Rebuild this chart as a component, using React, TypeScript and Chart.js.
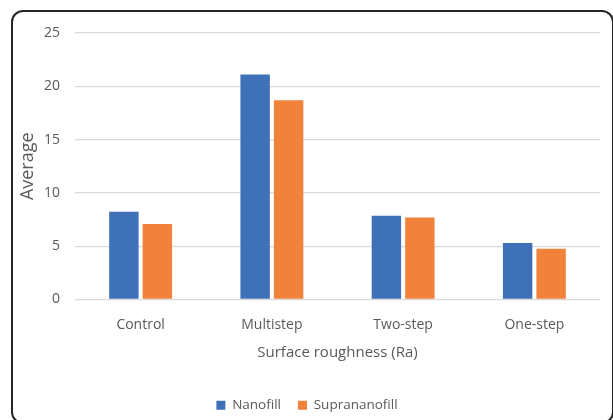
import React, { useEffect, useRef } from "react";
import { Chart, registerables } from "chart.js";

Chart.register(...registerables);

const categories = ["Control", "Multistep", "Two-step", "One-step"];
const nanofill = [8.22, 21.1, 7.85, 5.31];
const supranano = [7.09, 18.7, 7.7, 4.76];
const seriesNames = ["Nanofill", "Suprananofill"];
const xTitle = "Surface roughness (Ra)";
const yTitle = "Average";

const FONT = "'Open Sans', 'Noto Sans', sans-serif";
const TEXT = "#595959";

export default function App() {
  const ref = useRef<HTMLCanvasElement | null>(null);

  useEffect(() => {
    if (!ref.current) return;
    const chart = new Chart(ref.current, {
      type: "bar",
      data: {
        labels: categories,
        datasets: [
          {
            label: seriesNames[0],
            data: nanofill,
            backgroundColor: "#3F71B8",
            borderColor: "#3F71B8",
            borderWidth: 0,
          },
          {
            label: seriesNames[1],
            data: supranano,
            backgroundColor: "#F1823B",
            borderColor: "#F1823B",
            borderWidth: 0,
          },
        ],
      },
      options: {
        responsive: false,
        animation: false,
        devicePixelRatio: 1,
        layout: { padding: { left: 14, right: 13, top: 33, bottom: 0 } },
        datasets: {
          bar: { categoryPercentage: 0.51, barPercentage: 0.88 },
        },
        plugins: {
          tooltip: { enabled: false },
          legend: {
            position: "bottom",
            labels: {
              boxWidth: 9,
              boxHeight: 9,
              padding: 17,
              color: TEXT,
              font: { family: FONT, size: 13.5 },
            },
          },
        },
        scales: {
          x: {
            grid: { display: false, drawTicks: false },
            border: { display: false },
            ticks: {
              color: TEXT,
              padding: 17,
              font: { family: FONT, size: 14 },
            },
            title: {
              display: true,
              text: xTitle,
              color: TEXT,
              font: { family: FONT, size: 15 },
              padding: { top: 4, bottom: 20 },
            },
            afterFit: (scale: any) => {
              scale.height = 82;
            },
          },
          y: {
            min: 0,
            max: 25,
            grid: { color: "#D9D9D9", lineWidth: 1.3, drawTicks: false },
            border: { display: false },
            ticks: {
              stepSize: 5,
              color: TEXT,
              padding: 15,
              font: { family: FONT, size: 14 },
            },
            title: {
              display: true,
              text: yTitle,
              color: TEXT,
              font: { family: FONT, size: 18 },
              padding: { top: 3, bottom: 4 },
            },
            afterFit: (scale: any) => {
              scale.width = 75 - 14;
            },
          },
        },
      },
    });
    return () => chart.destroy();
  }, []);

  return (
    <div
      style={{
        position: "fixed",
        left: 0,
        top: 0,
        width: 613,
        height: 420,
        overflow: "hidden",
        background: "#fff",
      }}
    >
      <canvas ref={ref} width={613} height={422} style={{ position: "absolute", left: 0, top: 0 }} />
      <div
        style={{
          position: "absolute",
          left: 11,
          top: 10,
          width: 603,
          height: 414,
          border: "2px solid #262626",
          borderRadius: 12,
          boxSizing: "border-box",
          pointerEvents: "none",
        }}
      />
    </div>
  );
}
